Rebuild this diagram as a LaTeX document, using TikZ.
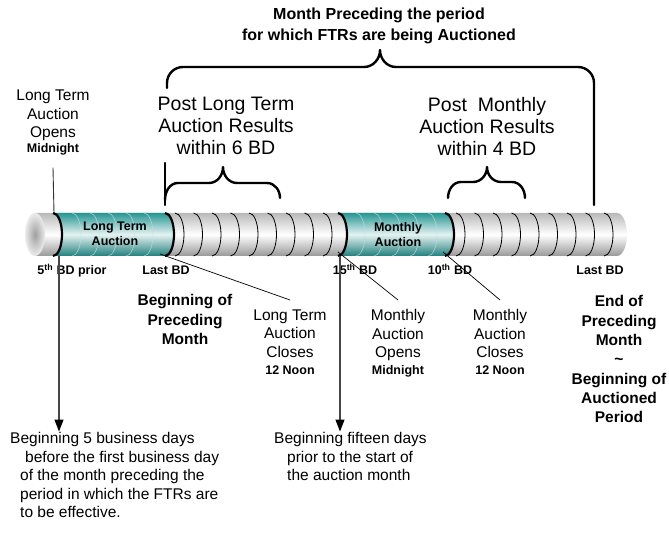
\documentclass[tikz,border=0pt]{standalone}
\usepackage{fontspec}
\setmainfont{Liberation Sans}
\usetikzlibrary{arrows.meta}
\newcommand{\tubetop}{213}
\newcommand{\tubebot}{256}
\definecolor{tubeteal}{RGB}{38,150,147}
\definecolor{arrowgrey}{RGB}{70,70,70}
\tikzset{
  bigtext/.style={align=center, inner sep=0pt, font=\fontsize{19.5}{22}\selectfont},
  midtext/.style={align=center, inner sep=0pt, font=\fontsize{15.5}{18.5}\selectfont},
  headtext/.style={align=center, inner sep=0pt, font=\bfseries\fontsize{15.5}{19.3}\selectfont},
  daytext/.style={inner sep=0pt, anchor=base, font=\bfseries\fontsize{12.5}{15}\selectfont},
  ring/.style={line width=0.8pt},
  band/.style={line width=2.2pt},
  brace/.style={line width=2.4pt, line join=round, line cap=round},
  pointer/.style={line width=0.7pt},
  droparrow/.style={draw=arrowgrey, line width=1.3pt,
    -{Triangle[length=12pt,width=9pt,color=black]}},
}
\newcommand{\smallbold}{\bfseries\fontsize{12.5}{15}\selectfont}

\begin{document}
\begin{tikzpicture}[x=1pt, y=-1pt]
    \useasboundingbox (0,0) rectangle (669,534);
    %
    \node[align=center, inner sep=0pt, anchor=north,
          font=\bfseries\fontsize{16}{21}\selectfont] (monthhead) at (379,8)
        {Month Preceding the period\\for which FTRs are being Auctioned};

    \draw[brace] (167,88) -- (167,83) to[out=90,in=180] (183,67) -- (364,67)
        to[out=0,in=-90] (380,50) to[out=-90,in=180] (396,67) -- (578,67)
        to[out=0,in=90] (594,83) -- (594,205);

    \node[bigtext, anchor=north] (postlt) at (226,97)
        {Post Long Term\\Auction Results\\within 6 BD};
    \node[bigtext, anchor=north] (postm) at (487,97)
        {Post\ \ Monthly\\Auction Results\\within 4 BD};

    % braces over the result windows
    \draw[brace] (165,163) -- (165,205);
    \draw[brace] (165,200) to[out=90,in=180] (178,183) -- (209,183)
        to[out=0,in=-90] (223,167) to[out=-90,in=180] (237,183) -- (267,183)
        to[out=0,in=90] (280,198);
    \draw[brace] (448,198) to[out=90,in=180] (461,182) -- (473,182)
        to[out=0,in=-90] (487,167) to[out=-90,in=180] (501,182) -- (512,182)
        to[out=0,in=90] (525,198);

    \node[midtext, anchor=north] (ltopen) at (53,90)
        {Long Term\\Auction\\Opens\\[-3.5pt]{\smallbold Midnight}};

    % the tube
    \shade[top color=gray!55, bottom color=gray!80, middle color=white]
        (35,\tubetop) -- (617,\tubetop)
        arc[start angle=90, end angle=-90, x radius=10pt, y radius=21.5pt]
        -- (35,\tubebot) -- cycle;
    \shade[inner color=gray!75, outer color=gray!15]
        (35,234.5) ellipse[x radius=10pt, y radius=21.5pt];

    \shade[top color=tubeteal, bottom color=tubeteal!85!black, middle color=tubeteal!12!white]
        (53,\tubetop) -- (165,\tubetop)
        arc[start angle=90, end angle=-90, x radius=9pt, y radius=21.5pt]
        -- (53,\tubebot)
        arc[start angle=-90, end angle=90, x radius=9pt, y radius=21.5pt] -- cycle;
    \shade[top color=tubeteal, bottom color=tubeteal!85!black, middle color=tubeteal!12!white]
        (338,\tubetop) -- (445,\tubetop)
        arc[start angle=90, end angle=-90, x radius=9pt, y radius=21.5pt]
        -- (338,\tubebot)
        arc[start angle=-90, end angle=90, x radius=9pt, y radius=21.5pt] -- cycle;

    \foreach \rx in {72,90,108,126,144,356,374,392,410,428}
      \draw[white!70!tubeteal, line width=0.4pt] (\rx,\tubetop)
        arc[start angle=90, end angle=-90, x radius=9pt, y radius=21.5pt];
    \foreach \rx in {175,193.5,212,230.5,249,267.5,286,304.5,323,
                     456,474.5,493,511.5,530,548.5,567,585.5,604}
      \draw[ring] (\rx,\tubetop)
        arc[start angle=90, end angle=-90, x radius=9pt, y radius=21.5pt];
    \foreach \rx in {53,165,338,445}
      \draw[band] (\rx,\tubetop)
        arc[start angle=90, end angle=-90, x radius=9pt, y radius=21.5pt];

    \node[align=center, inner sep=0pt, anchor=north, font=\smallbold] (ltauc) at (115,222)
        {Long Term\\Auction};
    \node[align=center, inner sep=0pt, anchor=north, font=\smallbold] (mauc) at (398,222)
        {Monthly\\Auction};

    \coordinate (ltstart) at (54,\tubetop);
    \coordinate (fivebdmark) at (59,\tubebot);
    \coordinate (ltend) at (160,254);
    \coordinate (mstart) at (338,252);
    \coordinate (mopenmark) at (340,\tubebot);
    \coordinate (mend) at (443,252);

    \draw[line width=0.9pt, draw=black!80] ([yshift=-12pt]ltopen.south) -- (ltstart);

    % business day marks
    \node[daytext] (fivebd) at (72,274.5) {5\textsuperscript{th} BD prior};
    \node[daytext] (lastbdone) at (166,274.5) {Last BD};
    \node[daytext] (bdfifteen) at (355,274.5) {15\textsuperscript{th} BD};
    \node[daytext] (bdten) at (450,274.5) {10\textsuperscript{th} BD};
    \node[daytext] (lastbdtwo) at (600,274.5) {Last BD};

    \node[headtext, anchor=north] (begprec) at (185,294.5)
        {Beginning of\\Preceding\\Month};
    \node[headtext, anchor=north] (endprec) at (619,295.5)
        {End of\\Preceding\\Month\\\textasciitilde\\Beginning of\\Auctioned\\Period};

    \node[midtext, anchor=north] (ltclose) at (290,309.5)
        {Long Term\\Auction\\Closes\\[-1.5pt]{\smallbold 12 Noon}};
    \node[midtext, anchor=north] (mopen) at (398,309.5)
        {Monthly\\Auction\\Opens\\[-1.5pt]{\smallbold Midnight}};
    \node[midtext, anchor=north] (mclose) at (500,309.5)
        {Monthly\\Auction\\Closes\\[-1.5pt]{\smallbold 12 Noon}};

    \draw[pointer] (ltend) -- ([yshift=9.5pt]ltclose.north);
    \draw[pointer] (mstart) -- ([yshift=9.5pt]mopen.north);
    \draw[pointer] (mend) -- ([yshift=9.5pt]mclose.north);

    \node[midtext, align=left, anchor=north west] (notefive) at (20,432.5)
        {\hspace*{-10pt}Beginning 5 business days\\
         \hspace*{5pt}before the first business day\\
         of the month preceding the\\
         period in which the FTRs are\\
         to be effective.};
    \node[midtext, align=left, anchor=north west] (notefifteen) at (287,432.5)
        {\hspace*{-13pt}Beginning fifteen days\\
         prior to the start of\\
         the auction month};

    \draw[droparrow] (fivebdmark) -- ([yshift=1pt]fivebdmark |- notefive.north);
    \draw[droparrow] (mopenmark) -- ([yshift=1pt]mopenmark |- notefifteen.north);
\end{tikzpicture}
\end{document}
